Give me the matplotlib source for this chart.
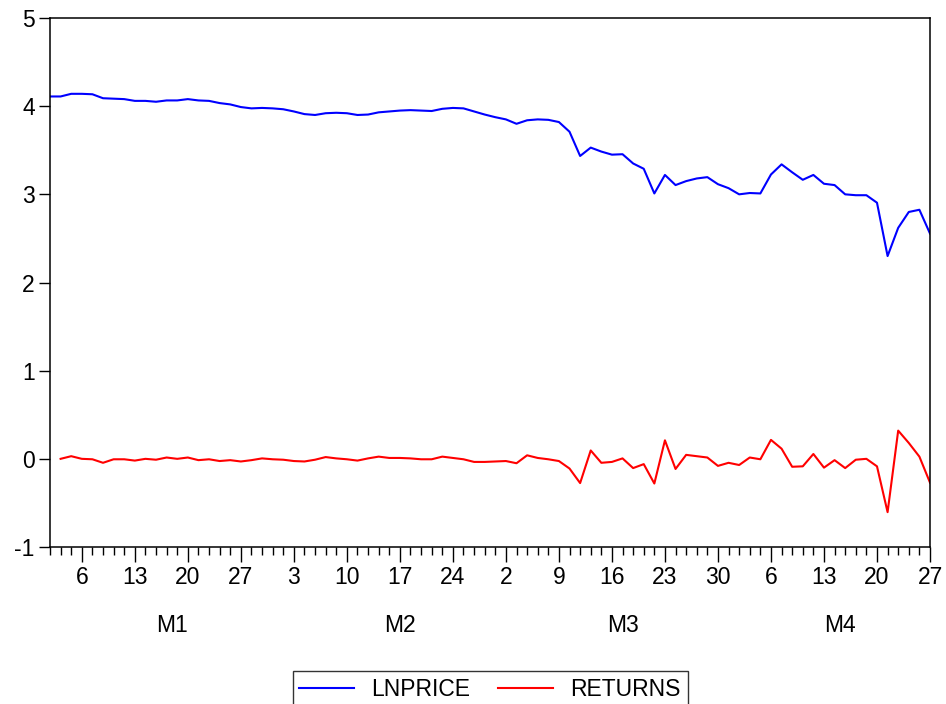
import matplotlib
matplotlib.use("Agg")
import matplotlib.pyplot as plt
import matplotlib.transforms as mtransforms
import numpy as np
import pandas as pd

plt.rcParams["font.family"] = ["Liberation Sans", "DejaVu Sans"]

# business days, Jan 1 - Apr 27
dates = pd.bdate_range("2020-01-01", "2020-04-27")

lnprice = [
    4.11, 4.11, 4.14, 4.14, 4.135, 4.09, 4.085, 4.08, 4.06, 4.06,
    4.05, 4.065, 4.065, 4.08, 4.065, 4.06, 4.035, 4.02, 3.99, 3.975,
    3.98, 3.975, 3.965, 3.94, 3.91, 3.90, 3.92, 3.925, 3.92, 3.90,
    3.905, 3.93, 3.94, 3.95, 3.955, 3.95, 3.945, 3.97, 3.98, 3.975,
    3.94, 3.905, 3.875, 3.85, 3.80, 3.84, 3.85, 3.845, 3.82, 3.71,
    3.435, 3.53, 3.485, 3.45, 3.455, 3.35, 3.29, 3.01, 3.22, 3.105,
    3.15, 3.18, 3.195, 3.115, 3.07, 3.00, 3.015, 3.01, 3.225, 3.34,
    3.25, 3.165, 3.22, 3.12, 3.105, 3.00, 2.99, 2.99, 2.905, 2.30,
    2.62, 2.80, 2.825, 2.555,
]

# first observation has no return
returns = [
    np.nan, 0.00, 0.03, 0.00, -0.005, -0.045, -0.005, -0.005, -0.02, 0.00,
    -0.01, 0.015, 0.00, 0.015, -0.015, -0.005, -0.025, -0.015, -0.03, -0.015,
    0.005, -0.005, -0.01, -0.025, -0.03, -0.01, 0.02, 0.005, -0.005, -0.02,
    0.005, 0.025, 0.01, 0.01, 0.005, -0.005, -0.005, 0.025, 0.01, -0.005,
    -0.035, -0.035, -0.03, -0.025, -0.05, 0.04, 0.01, -0.005, -0.025, -0.11,
    -0.275, 0.095, -0.045, -0.035, 0.005, -0.105, -0.06, -0.28, 0.21, -0.115,
    0.045, 0.03, 0.015, -0.08, -0.045, -0.07, 0.015, -0.005, 0.215, 0.115,
    -0.09, -0.085, 0.055, -0.10, -0.015, -0.105, -0.01, 0.00, -0.085, -0.605,
    0.32, 0.18, 0.025, -0.27,
]

month_names = ["M1", "M2", "M3", "M4"]

x = np.arange(len(dates))
fs = 16.5

fig = plt.figure(figsize=(9.46, 7.04), dpi=100)
ax = fig.add_axes([50 / 946, 1 - 547 / 704, 880 / 946, 529 / 704])

ax.plot(x, lnprice, color="#0000ff", lw=1.5, label="LNPRICE")
ax.plot(x, returns, color="#ff0000", lw=1.5, label="RETURNS")

ax.set_xlim(0, len(dates) - 1)
ax.set_ylim(-1, 5)
ax.set_yticks(range(-1, 6))
ax.set_yticklabels([str(v) for v in range(-1, 6)])

# major ticks on mondays, minor tick on every observation
mondays = [i for i, d in enumerate(dates) if d.weekday() == 0]
ax.set_xticks(mondays)
ax.set_xticklabels([str(dates[i].day) for i in mondays])
ax.set_xticks(x, minor=True)

ax.tick_params(axis="x", which="major", length=11, width=1, direction="out",
               labelsize=fs, pad=3)
ax.tick_params(axis="x", which="minor", length=6, width=1, direction="out")
ax.tick_params(axis="y", which="major", length=8, width=1, direction="out",
               labelsize=fs, pad=3)

for s in ax.spines.values():
    s.set_linewidth(1.1)
    s.set_color("black")

# month labels centred under each month
trans = mtransforms.blended_transform_factory(ax.transData, ax.transAxes)
months = dates.month
for k, m in enumerate(sorted(set(months))):
    idx = np.where(months == m)[0]
    start = idx[0]
    end = idx[-1] + 1
    ax.text((start + end) / 2, -0.148, month_names[k], transform=trans,
            ha="center", va="center", fontsize=fs)

fig.legend(loc="upper center", bbox_to_anchor=(490 / 946, 1 - 660 / 704),
           ncol=2, frameon=True, fancybox=False, edgecolor="black",
           fontsize=fs, handlelength=2.4, columnspacing=1.2,
           borderpad=0.3, borderaxespad=0.5, handletextpad=0.75)

fig.savefig("out.png", dpi=100)
